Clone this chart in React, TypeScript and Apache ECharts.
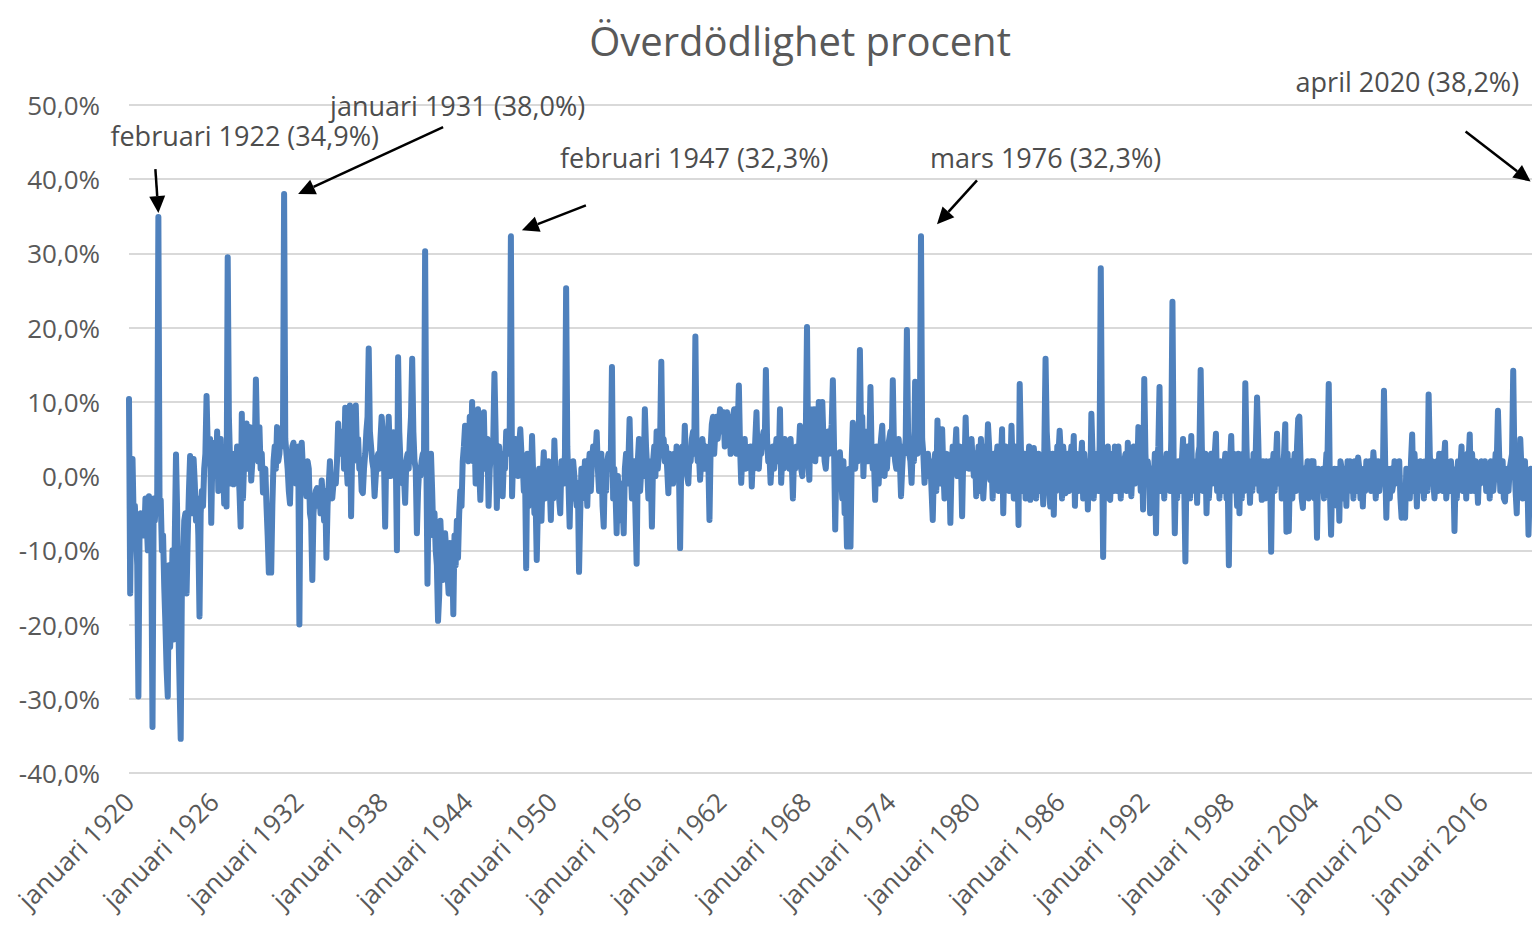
import React, { useEffect, useRef } from "react";
import * as echarts from "echarts";

const FONT = '"Open Sans", "Noto Sans", sans-serif';
const MONTHS = ["januari", "februari", "mars", "april", "maj", "juni", "juli", "augusti", "september", "oktober", "november", "december"];
const START_YEAR = 1920;

// Monthly excess mortality (%), one row per year
const d1920s = [
  10.4, -15.8, -2, 2.3, -6, -4, -8, -12, -29.7, -7, -5, -6,
  -5, -8, -3, -6, -10, -2.7, -6, -10, -33.8, -3, -6, -3,
  -3, 34.9, -4, -3.2, -10, -8, -15, -20, -26, -29.7, -12, -23,
  -18, -10, -22, -8, 2.9, -5, -20, -28, -35.4, -15, -12, -6,
  -5, -15.8, -8, -2, 2.7, -3, -5, 2.3, -1, -6, -3, -8,
  -18.9, -5, -2, -4, 1, 3, 10.8, 4, 2, 5, -6.3, 3,
  2, 4.5, 0, 6, -2, 3, 5, -1, 2, -3.7, 1, -4.1,
  29.5, 8, 2, -1, 3, -1.1, 2, 0, 4, 1, -2, -6.8,
  8.4, -3, 2, 4, 7.1, 1, 3, 6.6, -0.6, 2, 5, 3,
  13, 5, 2, 6.6, 1, 3, -2.2, 0, 1, -4, -8, -13,
];
const d1930s = [
  -10, -13, -4, 2, 4, 1, 6.6, 2, 3, 6, 4, 5,
  38.0, 5, 3, 1, -2, -3.7, 2, 4, 4.5, 1, -1, 3,
  4, -20, 2, 4.5, 1, 0, -1, -2.7, 2, 1, -5, -6,
  -14, -5, -3, -2, -1.6, -4, -2, -5, -0.6, -3, -6, -2,
  -11, -4, -1, 2, -2.2, -3, -1, 0, -1, 2, 7.1, 3,
  5, 3, 6, 1, 9.2, 2, -1, 3, 9.5, -5.4, 4, 2,
  4, 9.5, 3, 5, 1, 2, -2, -2.3, 1, 3, 6, 8,
  17.2, 6, 4, 2, 1, -2.7, 0, 2, 3, 1, 5, 8,
  6, 2, -6.8, 4, 1, 8, 3, 0, 2, 5.9, 1, 3,
  -10, 16, 6, 2, 1, -1, 0, -3.6, 2, 3, 1, 5,
];
const d1940s = [
  8, 15.8, 6, 2, 1, -7.7, -2, 1, 0, 2, 3, 1,
  30.3, 3, -14.5, -3, -6, 3, -2, -8, -5, -10, -12, -19.5,
  -16, -6, -10, -14, -12, -7.7, -10, -13, -15.8, -9, -12, -10,
  -18.6, -8, -12, -6, -11, -5, -2, -4, 2, 4, 6.8, 3,
  5, 2, 8, 3, 10, 2, 6, -1, 4, 9, 1, -3.2,
  2, 4, 8.6, 1, 3, 5, -4, 1, 3, 2, 5, 13.8,
  6, -4.3, 2, 4, 1, 3, -2.7, 2, 1, 6, 4, 3,
  6, 32.3, -2.7, 3, 1, 5, 2, 0, 4, 6.3, 3, 2,
  -2, 1, -12.4, 3, -4, 2, -1, 5.4, 0, -5, -3, -11.3,
  -4, 1, -2, -6, 0, 3.2, -3, 1, -2, 2, -1, -5.9,
];
const d1950s = [
  1, -3, 4.8, 0, -2, 1, -3, -5, 2, 1, -1, 3,
  25.3, 4, -1, -6.8, 1, -3, 2, 0, -2, -4, -1, -12.9,
  -5, 1, -3, -2, 2, 0, -4, 1, 3, -2, 2, 4,
  2, 3, 5.9, 1, -2, -1, 3, -4, -6.8, 1, -2, 2,
  3, 1, 2, 14.7, -3, 1, -2, -7.7, 0, -3, -1, -6,
  -4, -7.7, 1, 3, -1, 2, 7.7, 1, -3, 0, 2, -5,
  -11.8, 2, 5, -2, 1, 3, 0, 9, 4, 1, -3, 2,
  1, -6.8, 2, 4, 0, 6, 1, 3, 5, 15.4, 3, 5,
  2, 4, 1, -2.3, 3, 1, 2, -1, 3, 0, 4, 2,
  1, -9.7, 2, 4, 1, 6.8, 2, 0, -1, 3, 2, 5,
];
const d1960s = [
  6, 3, 18.8, 4, 2, 3, -0.5, 2, 5, 3, 1, 4,
  3, 2, -5.9, 4, 7, 8, 3, 6, 8, 5, 7, 9,
  8, 6, 8.6, 4, 7, 8.6, 5, 8, 3, 6, 8, 9,
  5, 3, 6, 12.2, 4, -0.9, 3, 2, 5, 1, 4, 3,
  2, 4, -1.4, 3, 1, 5, 8.6, 2, 1, 4, 3, 5,
  6, 4, 14.3, 5, 2, 3, -0.9, 2, 4, 1, 3, 5,
  4, 2, 9, -0.9, 3, 1, 5, 2, 4, 3, 1, 5,
  2, -3, 3, 1, 4, 2, 3, 6.8, 1, 0, 4, 5,
  6, 20.1, 2, -0.5, 9, 3, 4, 9, 2, 5, 3, 10,
  4, 3, 10, 5, 2, 1, 4, 6, 3, 5, 7, 12.9,
];
const d1970s = [
  4, -7.2, 2, 3, 1, 3.2, 0, -3, 2, -5, -2, -9.5,
  -3, 1, -9.5, 2, 7.2, 3, 1, 4, 2, 5, 17, 6,
  8, 0, 5, 3, 6, 2, 4, 12, 3, 1, 2, -3.2,
  4, 2, -1, 3, 5, 6.8, 2, 0, 3, 1, 4, 5,
  6, 3, 12.9, 4, 2, 1, 3, 5, 2, -2.7, 1, 4,
  3, 5, 19.7, 6, 3, 2, -0.9, 4, 2, 12.7, 5, 3,
  4, 6, 32.3, 5, 3, -0.9, 2, 1, 3, 0, 2, -2,
  -5.9, 1, 3, -2, 7.5, 2, -1, 3, 6.3, 1, -3, 2,
  3, 1, 2, -6.3, 1, 4, 2, 3, 6.3, 0, 2, 4,
  2, -5.4, 3, 1, 7.9, 2, 4, 1, 3, 5, 2, 0,
];
const d1980s = [
  3, -2.7, 1, 4, -2, 5, 1, -3, 0, 4, 2, 7,
  4, -0.5, 2, -3, 3, 0, 2, 4, -2, 3, 2, 6.3,
  -5, 2, 4, -1, 3, -2, 0, 6.8, 1, -3, 4, 2,
  3, -6.6, 12.4, 4, -2, 1, 3, -3, 2, 1, 4, -3.2,
  2, -2, 3.8, 2, -3, 1, 3, -2, -1, 1, -3.8, 4,
  15.8, 6, 3, -2, -4.1, 1, 3, -5.2, 2, -2, 4, 3,
  6.1, 3, -3, 4, 2, -2.3, 1, 3, -2, 2, 4, 1,
  5.4, -4, 2, 3, -2, 0, 2, 4.5, -3, 3, 0, 2,
  -4.5, 2, -2, 8.4, 3, -3, 1, 0.5, 3, -2, 4, 28,
  5, -10.9, 2, -2, 1, 4, -3, -3.2, 1, 3, -2, 4,
];
const d1990s = [
  3, -2, 4, 1, -3, 2, -1, 2, 3, -2, 4.5, 1,
  3, -2.7, 1, 4, -1, 3, 0, 6.6, 2, -2, 3, -4.5,
  13.1, 3, -1, 2, 0, -5, 1, -2, -1, 3, -7.7, 2,
  4, 12, -2, 1, 2, -3, 1.4, 3, -1, 2, -2, 5,
  23.5, 2, -7.7, 1, -3, 2, 0, -2, 2, 5, -1, -11.5,
  2, 4, -1, -3, 5.4, -2, 0, 1, 2, -3.6, 3, 4,
  14.3, 4, -2, 1, 3, -5, 1, -3, 0, 3, -1, 2,
  3, 5.7, -2, 1, -3, 2, 0.5, -2, 1, 3, -3, 0,
  -12, 2, 5.4, -1, 3, -2, 0, -4, 3, -5, 2, -3,
  3, -2, 12.5, 4, -1, 0, -3.6, 2, -2, 3, -1, 4,
];
const d2000s = [
  10.6, 5, -2, 1, -3.2, 2, 0, -3, 2, 1, -2, 2,
  -10.2, 1, 3, -2, 2, 5.7, -1, 0, 2, -3, 1, 3,
  7, -7.5, 3, -7.4, 1, 2, -3, 1, 3, -2, 4, 7.7,
  8, 2, -3, -4.3, 1, -2, 0, 2, -3, 0.9, 2, -1,
  2, -3, 0, -8.3, 1, -2, 0, -1.4, 1, -3, 0, 3,
  3, 12.4, -2, -7.9, 0, -3, 1, -2, -4, 1, -6, 2,
  1, -3, 0, 1, -4, 2, -2, 2, -1, 1, -3, 2,
  1, -2, 2.5, 1, -3, 0, -4.1, 1, -2, 2, 1, -1,
  2, -2, 0, 3.2, 1, -3, 0, 2, -2, 0, 2, -1,
  11.5, 2, -5.6, 1, -2, -3, 1, -2, -1, 2, -1, 0.5,
];
const d2010s = [
  -1, 2, -3, -5.6, -5, -4, -5.6, 1, -2, -1, -3, 2,
  5.6, -2, 3, 0, -4.1, 1, -2, 2, -1, 1, -3, 2,
  2, -2, 11, 3, -1, 2, -0.9, -3, 0, 2, -2, 3,
  2, 3, -2, 2, 4.5, -3, -1, 1, -2, 2, 0, 1,
  -7.4, 0, -3, 2, -1, 1, 4, -2, 0, 2, -3, 3,
  2, 5.6, -2, 3, 0, -2, 2, 0, -3.6, 1, -1, 2,
  1, 0.5, 2, -2, -1, 1, -3, 2, 1, -2, 0, 3,
  2, 8.8, 3, -2, 0, 2, -3, -3.4, 0, 1, -2, 1,
  2, 3, 14.2, 2, -2, -5, 2, -1, 5, 1, -3, 2,
  2, -3, 0, -7.9, -2, 1, 0.5, -1, 0, 1, -2, 0,
];
const d2020 = [1, -2, 5, 38.2, 12, 2, -1, 0, 1, 0, 3, 8];

const values = [
  ...d1920s, ...d1930s, ...d1940s, ...d1950s, ...d1960s,
  ...d1970s, ...d1980s, ...d1990s, ...d2000s, ...d2010s, ...d2020,
];
const categories = values.map((_, i) => `${MONTHS[i % 12]} ${START_YEAR + Math.floor(i / 12)}`);

const Y_MIN = -40;
const Y_MAX = 50;
const Y_STEP = 10;

// Annotated peaks
const annotations = [
  { text: "februari 1922 (34,9%)", month: "februari 1922", value: 34.9 },
  { text: "januari 1931 (38,0%)", month: "januari 1931", value: 38.0 },
  { text: "februari 1947 (32,3%)", month: "februari 1947", value: 32.3 },
  { text: "mars 1976 (32,3%)", month: "mars 1976", value: 32.3 },
  { text: "april 2020 (38,2%)", month: "april 2020", value: 38.2 },
];
// Layout of the callouts, offsets in px from the peak point: arrow tip, arrow tail, text left/middle
const annotationLayout = [
  { tip: [0, -4], tail: [-3, -48], label: [-48, -82] },
  { tip: [14, 0], tail: [159, -67], label: [46, -89] },
  { tip: [11, -6], tail: [75, -31], label: [49, -79] },
  { tip: [16, -12], tail: [56, -56], label: [9, -79] },
  { tip: [-12, -11], tail: [-77, -61], label: [-247, -111] },
];

const fmtPct = (v: number) => `${v.toFixed(1).replace(".", ",")}%`;

export default function App() {
  const ref = useRef<HTMLDivElement>(null);
  useEffect(() => {
    if (!ref.current) return;
    const chart = echarts.init(ref.current, undefined, { renderer: "svg" });
    chart.setOption({
      animation: false,
      backgroundColor: "#ffffff",
      title: {
        text: "Överdödlighet procent",
        left: "center",
        top: 15,
        textStyle: { fontFamily: FONT, fontSize: 40, fontWeight: "normal", color: "#595959" },
      },
      grid: { left: 129, right: 48, top: 105, bottom: 152, containLabel: false },
      xAxis: {
        type: "category",
        data: categories,
        boundaryGap: false,
        axisLine: { show: false },
        axisTick: { show: false },
        splitLine: { show: false },
        axisLabel: {
          interval: 71,
          rotate: 45,
          margin: 24,
          color: "#595959",
          fontFamily: FONT,
          fontSize: 26,
        },
      },
      yAxis: {
        type: "value",
        min: Y_MIN,
        max: Y_MAX,
        interval: Y_STEP,
        axisLine: { show: false },
        axisTick: { show: false },
        splitLine: { lineStyle: { color: "#d9d9d9", width: 2 } },
        axisLabel: {
          formatter: fmtPct,
          margin: 29,
          color: "#595959",
          fontFamily: FONT,
          fontSize: 26,
        },
      },
      series: [
        {
          type: "line",
          data: values,
          symbol: "none",
          silent: true,
          lineStyle: { color: "#4f81bd", width: 6, join: "round", cap: "round" },
          itemStyle: { color: "#4f81bd" },
        },
      ],
    });

    const gfx: any[] = [];
    annotations.forEach((a, i) => {
      const idx = categories.indexOf(a.month);
      const p = chart.convertToPixel({ seriesIndex: 0 }, [idx, a.value]) as number[];
      const L = annotationLayout[i];
      const tx = p[0] + L.tip[0];
      const ty = p[1] + L.tip[1];
      const sx = p[0] + L.tail[0];
      const sy = p[1] + L.tail[1];
      const len = Math.hypot(tx - sx, ty - sy);
      const dx = (tx - sx) / len;
      const dy = (ty - sy) / len;
      const headL = 17;
      const headW = 8;
      const bx = tx - dx * headL;
      const by = ty - dy * headL;
      const nx = -dy;
      const ny = dx;
      gfx.push({
        type: "line",
        silent: true,
        z: 100,
        shape: { x1: sx, y1: sy, x2: bx, y2: by },
        style: { stroke: "#000000", lineWidth: 2.5 },
      });
      gfx.push({
        type: "polygon",
        silent: true,
        z: 100,
        shape: { points: [[tx, ty], [bx + nx * headW, by + ny * headW], [bx - nx * headW, by - ny * headW]] },
        style: { fill: "#000000" },
      });
      gfx.push({
        type: "text",
        silent: true,
        z: 100,
        x: p[0] + L.label[0],
        y: p[1] + L.label[1],
        style: {
          text: a.text,
          fill: "#4d4d4d",
          fontFamily: FONT,
          fontSize: 27,
          textAlign: "left",
          textVerticalAlign: "middle",
          align: "left",
          verticalAlign: "middle",
        },
      });
    });
    chart.setOption({ graphic: gfx });

    return () => chart.dispose();
  }, []);

  return (
    <div
      style={{
        position: "fixed",
        left: 0,
        top: 0,
        width: 1532,
        height: 925,
        overflow: "hidden",
        background: "#ffffff",
      }}
    >
      <div ref={ref} style={{ width: 1600, height: 925 }} />
    </div>
  );
}
